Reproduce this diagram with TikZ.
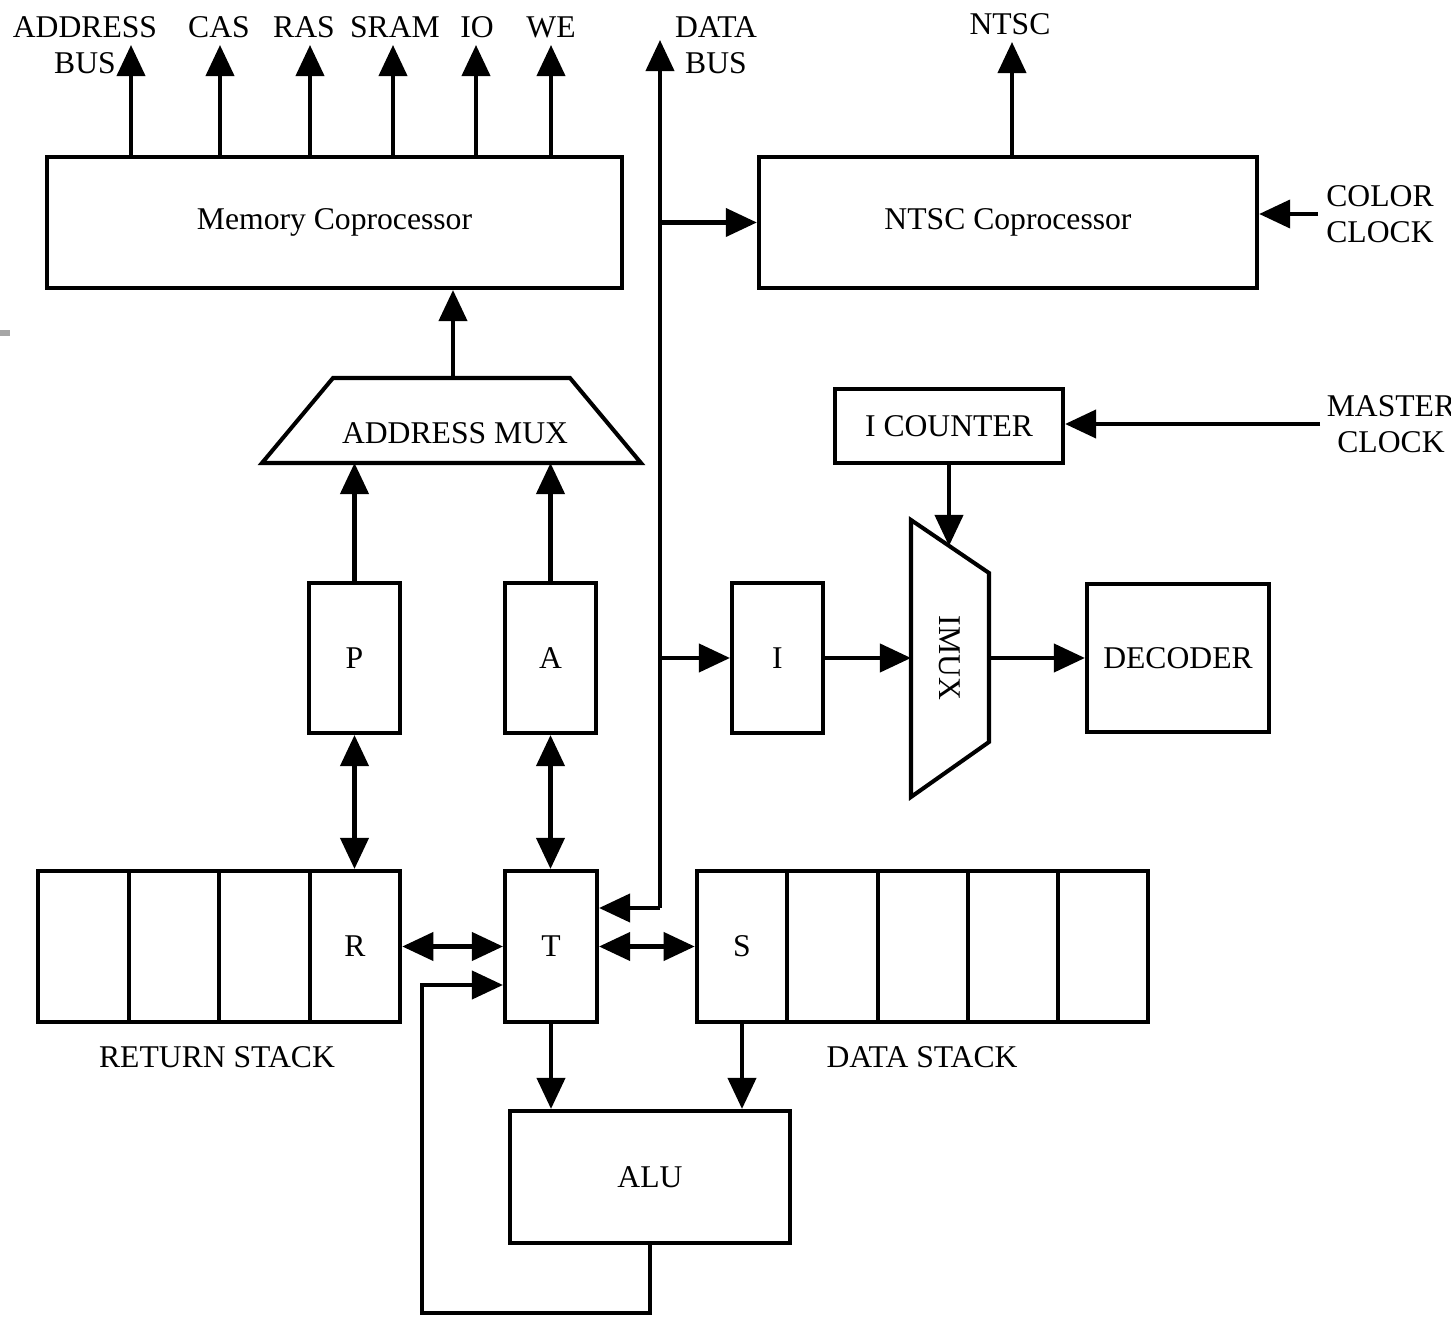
\documentclass[tikz,border=0pt]{standalone}
\usepackage{fontspec}
\setmainfont{Liberation Serif}
\usetikzlibrary{arrows.meta}
\begin{document}
\begin{tikzpicture}[x=0.01cm,y=-0.01cm,line width=1.15pt,
  font=\fontsize{9}{10.2}\selectfont,
  box/.style={draw,inner sep=0pt,line width=1.15pt},
  cell/.style={box,minimum width=0.905cm,minimum height=1.51cm},
  arr/.style={-{Triangle[length=0.31cm,width=0.28cm]}},
  darr/.style={{Triangle[length=0.31cm,width=0.28cm]}-{Triangle[length=0.31cm,width=0.28cm]}},
  lbl/.style={align=center,inner sep=0pt}]
\useasboundingbox (0,0) rectangle (1451,1319);
\fill[white] (0,0) rectangle (1451,1319);
\fill[gray!70] (0,330) rectangle (10,336);

% main blocks
\node[box,minimum width=5.75cm,minimum height=1.31cm] (mem) at (334.5,222.5) {Memory Coprocessor};
\node[box,minimum width=4.98cm,minimum height=1.31cm] (ntsc) at (1008,222.5) {NTSC Coprocessor};
\node[box,minimum width=0.91cm,minimum height=1.50cm] (P) at (354.5,658) {P};
\node[box,minimum width=0.91cm,minimum height=1.50cm] (A) at (550.5,658) {A};
\node[box,minimum width=0.91cm,minimum height=1.50cm] (I) at (777.5,658) {I};
\node[box,minimum width=2.28cm,minimum height=0.74cm] (icnt) at (949,426) {I COUNTER};
\node[box,minimum width=1.82cm,minimum height=1.48cm] (dec) at (1178,658) {DECODER};
\node[box,minimum width=2.80cm,minimum height=1.32cm] (alu) at (650,1177) {ALU};

% return stack
\node[cell] (rs1) at (83.5,946.5) {};
\node[cell] (rs2) at (174,946.5) {};
\node[cell] (rs3) at (264.5,946.5) {};
\node[cell] (R) at (355,946.5) {R};
\node[lbl] (rslbl) at (217,1057) {RETURN STACK};

% top of stack
\node[box,minimum width=0.92cm,minimum height=1.51cm] (T) at (551,946.5) {T};

% data stack
\node[cell] (S) at (742,946.5) {S};
\node[cell] (ds2) at (832.5,946.5) {};
\node[cell] (ds3) at (923,946.5) {};
\node[cell] (ds4) at (1013,946.5) {};
\node[cell] (ds5) at (1103,946.5) {};
\node[lbl] (dslbl) at (922,1057) {DATA STACK};

% address multiplexer
\draw (262,463) -- (333,378) -- (570,378) -- (641,463) -- cycle;
\node[lbl] (amux) at (455,433) {ADDRESS MUX};
\coordinate (amuxtop) at (453,378);
\coordinate (amuxbot) at (453,463);

% instruction multiplexer
\draw (911,520) -- (989,573) -- (989,742) -- (911,797) -- cycle;
\node[lbl,rotate=-90] (imux) at (950,658) {IMUX};
\coordinate (imuxin) at (911,658);
\coordinate (imuxout) at (989,658);
\coordinate (imuxsel) at (949,546);

% outputs of the memory coprocessor
\coordinate (oab) at (131,45);
\coordinate (ocas) at (220,45);
\coordinate (oras) at (310,45);
\coordinate (osram) at (393,45);
\coordinate (oio) at (476,45);
\coordinate (owe) at (551,45);
\foreach \c in {oab,ocas,oras,osram,oio,owe}
  \draw[arr] (\c |- mem.north) -- (\c);

\node[lbl] (lab) at (85,45) {ADDRESS\\BUS};
\node[lbl] (lcas) at (219,27) {CAS};
\node[lbl] (lras) at (304,27) {RAS};
\node[lbl] (lsram) at (395,27) {SRAM};
\node[lbl] (lio) at (477,27) {IO};
\node[lbl] (lwe) at (551,27) {WE};

% data bus
\coordinate (dbtop) at (660,40);
\coordinate (dbbot) at (660,908);
\node[lbl] (ldb) at (716,45) {DATA\\BUS};
\draw[arr] (dbbot) -- (dbtop);
\draw[arr] (dbbot) -- (T.east |- dbbot);
\draw[arr] (dbtop |- ntsc.west) -- (ntsc.west);
\draw[arr] (dbtop |- I.west) -- (I.west);

% video
\coordinate (ontsc) at (1012,42);
\node[lbl] (lntsc) at (1010,24) {NTSC};
\draw[arr] (ontsc |- ntsc.north) -- (ontsc);
\coordinate (cc) at (1318,214);
\node[lbl] (lcc) at (1380,214) {COLOR\\CLOCK};
\draw[arr] (cc) -- (cc -| ntsc.east);

% clocking
\coordinate (mc) at (1320,424);
\node[lbl] (lmc) at (1391,424) {MASTER\\CLOCK};
\draw[arr] (mc) -- (mc -| icnt.east);
\draw[arr] (icnt.south) -- (icnt.south |- imuxsel);
\draw[arr] (I.east) -- (imuxin);
\draw[arr] (imuxout) -- (dec.west);

% address path
\draw[arr] (amuxtop) -- (amuxtop |- mem.south);
\draw[arr] (P.north) -- (P.north |- amuxbot);
\draw[arr] (A.north) -- (A.north |- amuxbot);
\draw[darr] (P.south) -- (P.south |- R.north);
\draw[darr] (A.south) -- (A.south |- T.north);

% stacks and ALU
\draw[darr] (R.east) -- (T.west);
\draw[darr] (T.east) -- (S.west);
\draw[arr] (T.south) -- (T.south |- alu.north);
\draw[arr] (S.south) -- (S.south |- alu.north);
\coordinate (fb) at (422,1313);
\coordinate (fbin) at (505,985);
\draw[arr] (alu.south) |- (fb) |- (T.west |- fbin);
\end{tikzpicture}
\end{document}
